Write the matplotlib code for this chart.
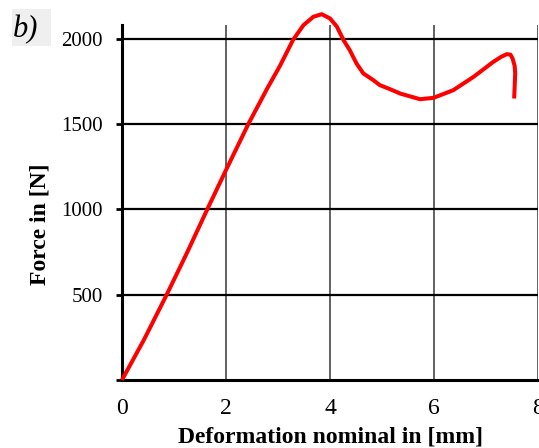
import numpy as np
import matplotlib.pyplot as plt
from matplotlib.patches import Rectangle

# force vs deformation
deform_mm = [0.0, 0.43, 0.86, 1.25, 1.64, 2.0, 2.43, 2.80, 3.04, 3.29,
             3.49, 3.68, 3.84, 4.0, 4.13, 4.26, 4.38, 4.51, 4.64, 4.83, 4.96,
             5.12, 5.35, 5.73, 5.99, 6.37, 6.76, 7.14, 7.30, 7.40, 7.47,
             7.51, 7.55, 7.56, 7.55, 7.54]
force_N = [0, 240, 500, 745, 1000, 1230, 1500, 1712, 1842, 1993,
           2079, 2128, 2143, 2118, 2071, 1991, 1932, 1854, 1796, 1757, 1727,
           1708, 1678, 1645, 1653, 1698, 1776, 1864, 1895, 1909, 1906,
           1883, 1840, 1796, 1720, 1649]

xticks = [0, 2, 4, 6, 8]
yticks = [500, 1000, 1500, 2000]

plt.rcParams['font.family'] = ['Liberation Serif', 'DejaVu Serif']

fig = plt.figure(figsize=(5.39, 4.48), dpi=100)
ax = fig.add_axes([0.2263, 0.1518, 0.772, 0.7925])

ax.plot(deform_mm, force_N, color='#ff0000', lw=2.9, clip_on=False,
        solid_capstyle='butt', solid_joinstyle='round', zorder=5)

ax.set_xlim(0, 8)
ax.set_ylim(0, 2080)
ax.set_xticks(xticks)
ax.set_yticks([0] + yticks)
ax.set_yticklabels([''] + [str(v) for v in yticks])

for v in xticks[1:]:
    ax.axvline(v, color='#555555', lw=1.3, zorder=1)
for v in yticks:
    ax.axhline(v, color='black', lw=1.6, zorder=1)

for s in ['top', 'right']:
    ax.spines[s].set_visible(False)
for s in ['left', 'bottom']:
    ax.spines[s].set_linewidth(2.2)
ax.tick_params(direction='out', length=4, width=2, labelsize=15, pad=10)
ax.tick_params(axis='x', length=0, pad=13, labelsize=17)

ax.set_xlabel('Deformation nominal in [mm]', fontsize=17, fontweight='bold')
ax.xaxis.set_label_coords(0.5, -0.13)
ax.set_ylabel('Force in [N]', fontsize=17, fontweight='bold')
ax.yaxis.set_label_coords(-0.197, 0.44)
ax.yaxis.label.set_va('center')

fig.add_artist(Rectangle((0.0223, 0.897), 0.0723, 0.083, transform=fig.transFigure,
                         facecolor='#efefef', edgecolor='none'))
fig.text(0.024, 0.933, 'b)', fontsize=22, style='italic', va='center')

fig.savefig('out.png', dpi=100)
